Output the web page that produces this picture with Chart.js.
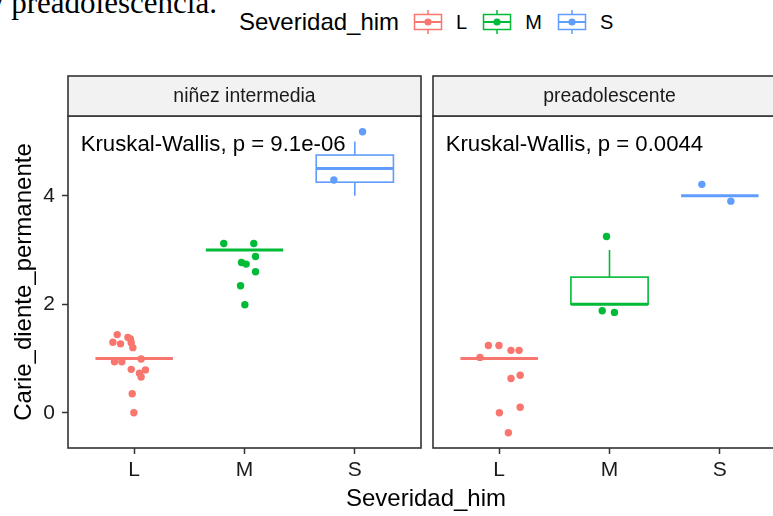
<!DOCTYPE html>
<html><head><meta charset="utf-8">
<script src="https://cdn.jsdelivr.net/npm/chart.js@4.4.0/dist/chart.umd.min.js"></script>
<style>
html,body{margin:0;padding:0;width:773px;height:516px;overflow:hidden;background:#fff;}
body{position:relative;font-family:"Liberation Sans",Arial,sans-serif;}
canvas{position:absolute;top:0;}
.txt{position:absolute;white-space:nowrap;}
#legend{position:absolute;left:239px;top:9px;height:26px;display:flex;align-items:center;}
#legend .ttl{font-size:24px;line-height:26px;color:#000;margin-right:14px;}
#legend svg{margin-right:13px;}
#legend .lab{font-size:20px;line-height:26px;color:#000;margin-right:15px;}
</style></head><body>
<div class="txt" style="left:-12px;top:-13.5px;font-family:'Liberation Serif','Times New Roman',serif;font-size:31px;line-height:31px;color:#000;">y preadolescencia.</div>
<div id="legend"></div>
<canvas id="c1" width="430" height="516" style="left:0;width:430px;height:516px;"></canvas>
<canvas id="c2" width="380" height="516" style="left:420px;width:380px;height:516px;"></canvas>
<div class="txt" style="left:0;width:852px;text-align:center;top:486px;font-size:24px;line-height:24px;color:#000;">Severidad_him</div>
<script>
// ---------------- data ----------------
const categories = ["L", "M", "S"];
const facets = ["niñez intermedia", "preadolescente"];
const pLabels = ["Kruskal-Wallis, p = 9.1e-06", "Kruskal-Wallis, p = 0.0044"];
const yTicks = [0, 2, 4];
const legendTitle = "Severidad_him";
const yTitle = "Carie_diente_permanente";

// box stats: [lower whisker, q1, median, q3, upper whisker]
const ninezBoxL = [1, 1, 1, 1, 1];
const ninezBoxM = [3, 3, 3, 3, 3];
const ninezBoxS = [4.0, 4.25, 4.5, 4.75, 5.0];
const preBoxL = [1, 1, 1, 1, 1];
const preBoxM = [2, 2, 2, 2.5, 3];
const preBoxS = [4, 4, 4, 4, 4];

// jittered points: values and horizontal jitter offsets (category units)
const ninezL = [1.44, 1.30, 1.27, 1.39, 1.36, 1.29, 1.20, 0.94, 0.94, 0.99, 0.80, 0.79, 0.73, 0.66, 0.35, 0.00];
const ninezLJit = [-0.154, -0.193, -0.124, -0.057, -0.034, -0.027, -0.012, -0.179, -0.112, 0.063, -0.027, 0.102, 0.048, 0.063, -0.018, -0.003];
const ninezM = [3.12, 3.12, 2.88, 2.77, 2.74, 2.60, 2.34, 1.99];
const ninezMJit = [-0.188, 0.084, 0.10, -0.027, 0.015, 0.10, -0.036, 0.003];
const ninezS = [5.18, 4.29];
const ninezSJit = [0.07, -0.19];

const preL = [1.24, 1.24, 1.15, 1.15, 1.02, 0.63, 0.69, 0.10, 0.00, -0.37];
const preLJit = [-0.098, -0.002, 0.107, 0.18, -0.174, 0.107, 0.19, 0.19, 0.002, 0.083];
const preM = [3.25, 1.88, 1.85];
const preMJit = [-0.027, -0.066, 0.045];
const preS = [4.21, 3.90];
const preSJit = [-0.163, 0.10];

// ---------------- style ----------------
const COLORS = ["#F8766D", "#00BA38", "#619CFF"];
const FONT = "'Liberation Sans', Arial, sans-serif";
const Y_MIN = -0.65, Y_MAX = 5.47;
const BOX_WIDTH = 0.7;

// legend (HTML, real text)
(function(){
  const lg = document.getElementById('legend');
  const t = document.createElement('span'); t.className = 'ttl'; t.textContent = legendTitle; lg.appendChild(t);
  categories.forEach((c, i) => {
    const col = COLORS[i];
    const svg = `<svg width="30" height="26" viewBox="0 0 30 26">
      <line x1="15" y1="1" x2="15" y2="25" stroke="${col}" stroke-width="1.5"/>
      <rect x="1.5" y="5.5" width="27" height="15" fill="#fff" stroke="${col}" stroke-width="1.5"/>
      <line x1="1.5" y1="13" x2="28.5" y2="13" stroke="${col}" stroke-width="2"/>
      <circle cx="15" cy="13" r="3.6" fill="${col}"/></svg>`;
    lg.insertAdjacentHTML('beforeend', svg);
    const l = document.createElement('span'); l.className = 'lab'; l.textContent = c; lg.appendChild(l);
  });
})();

function pts(vals, jit, cat) { return vals.map((v, i) => ({ x: cat + jit[i], y: v })); }

const panelPlugin = {
  id: 'panel',
  beforeDatasetsDraw(chart, args, o) {
    const { ctx, scales: { x, y } } = chart;
    ctx.save();
    o.boxes.forEach((b, i) => {
      const xc = x.getPixelForValue(i + 1);
      const hw = x.getPixelForValue(i + 1 + BOX_WIDTH / 2) - xc;
      const [lo, q1, md, q3, hi] = b.map(v => y.getPixelForValue(v));
      ctx.strokeStyle = COLORS[i];
      ctx.lineWidth = 1.6;
      ctx.beginPath();
      ctx.moveTo(xc, q3); ctx.lineTo(xc, hi);
      ctx.moveTo(xc, q1); ctx.lineTo(xc, lo);
      ctx.stroke();
      ctx.strokeRect(xc - hw, q3, 2 * hw, q1 - q3);
      ctx.lineWidth = 3;
      ctx.beginPath(); ctx.moveTo(xc - hw, md); ctx.lineTo(xc + hw, md); ctx.stroke();
    });
    ctx.restore();
  },
  afterDatasetsDraw(chart, args, o) {
    const { ctx, chartArea: a, scales: { x, y } } = chart;
    ctx.save();
    // p-value label
    ctx.fillStyle = '#000';
    ctx.font = `22.2px ${FONT}`;
    ctx.textAlign = 'left'; ctx.textBaseline = 'alphabetic';
    ctx.fillText(o.label, x.getPixelForValue(0.515), y.getPixelForValue(4.82));
    // panel border
    ctx.strokeStyle = '#333'; ctx.lineWidth = 1.6;
    ctx.strokeRect(a.left, a.top, a.right - a.left, a.bottom - a.top);
    // strip
    const st = 76;
    ctx.fillStyle = '#F2F2F2';
    ctx.fillRect(a.left, st, a.right - a.left, a.top - st);
    ctx.strokeRect(a.left, st, a.right - a.left, a.top - st);
    ctx.fillStyle = '#1A1A1A';
    ctx.font = `19.4px ${FONT}`;
    ctx.textAlign = 'center'; ctx.textBaseline = 'middle';
    ctx.fillText(o.strip, (a.left + a.right) / 2, (st + a.top) / 2 + 1);
    ctx.restore();
  }
};

function makeChart(id, facetIdx, boxes, series, showY, padL, padR) {
  const gridCfg = { drawOnChartArea: false, drawTicks: true, tickLength: 6, tickColor: '#333', tickWidth: 1.5 };
  return new Chart(document.getElementById(id), {
    type: 'scatter',
    data: {
      datasets: series.map((s, i) => ({
        label: categories[i], data: s,
        backgroundColor: COLORS[i], borderWidth: 0, pointRadius: 3.7, pointHoverRadius: 3.7
      }))
    },
    options: {
      responsive: false, animation: false, devicePixelRatio: 1,
      layout: { padding: { top: 116, left: padL, right: padR, bottom: 0 } },
      plugins: { legend: { display: false }, tooltip: { enabled: false },
        panel: { boxes: boxes, label: pLabels[facetIdx], strip: facets[facetIdx] } },
      scales: {
        x: {
          type: 'linear', min: 0.4, max: 3.6,
          afterBuildTicks: s => { s.ticks = categories.map((c, i) => ({ value: i + 1 })); },
          afterFit: s => { s.height = 68; },
          ticks: { callback: v => categories[Math.round(v) - 1] || '', color: '#1A1A1A', padding: 4,
                   font: { size: 21, family: FONT }, maxRotation: 0, autoSkip: false },
          grid: gridCfg, border: { display: false }
        },
        y: {
          display: showY, min: Y_MIN, max: Y_MAX,
          afterBuildTicks: s => { s.ticks = yTicks.map(v => ({ value: v })); },
          afterFit: s => { s.width = showY ? 68 : 0; },
          ticks: { color: '#1A1A1A', padding: 7, crossAlign: 'near', font: { size: 21, family: FONT }, autoSkip: false },
          grid: gridCfg, border: { display: false },
          title: { display: true, text: yTitle, color: '#000', font: { size: 24, family: FONT }, padding: { top: 10, bottom: 0 } }
        }
      }
    },
    plugins: [panelPlugin]
  });
}

makeChart('c1', 0, [ninezBoxL, ninezBoxM, ninezBoxS],
  [pts(ninezL, ninezLJit, 1), pts(ninezM, ninezMJit, 2), pts(ninezS, ninezSJit, 3)], true, 0, 9);
makeChart('c2', 1, [preBoxL, preBoxM, preBoxS],
  [pts(preL, preLJit, 1), pts(preM, preMJit, 2), pts(preS, preSJit, 3)], false, 13, 14);
</script>
</body></html>
